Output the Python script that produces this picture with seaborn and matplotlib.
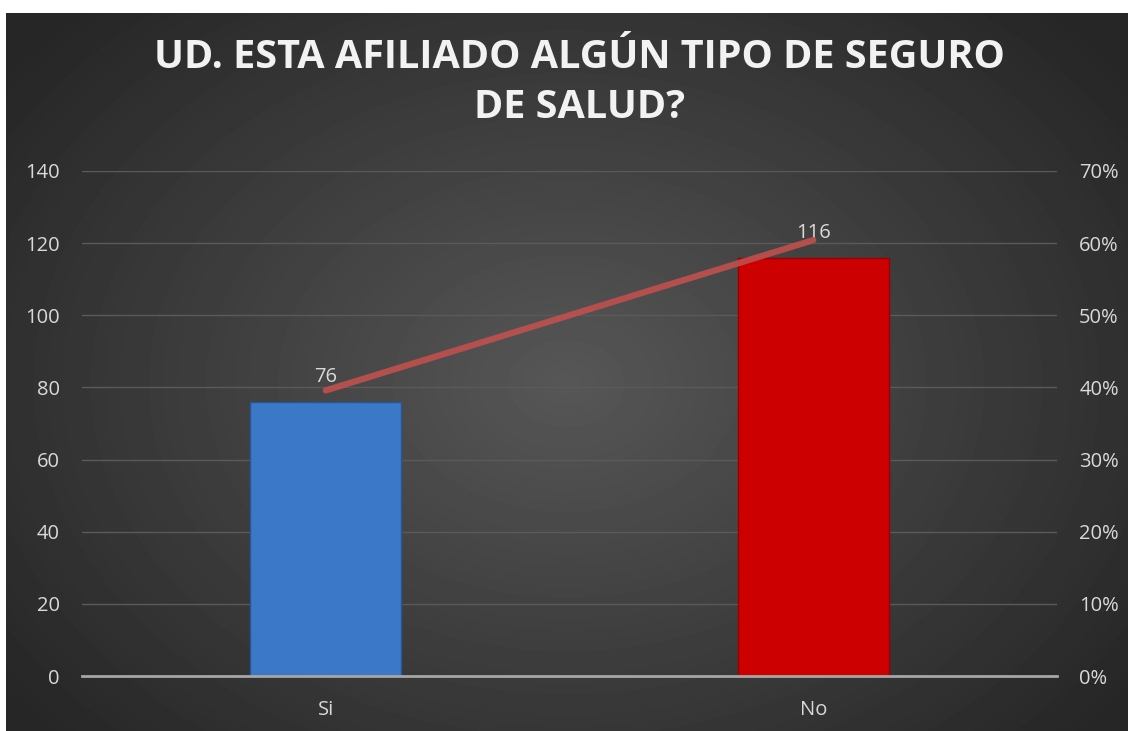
import numpy as np
import pandas as pd
import matplotlib
matplotlib.use("Agg")
from matplotlib import pyplot as plt
from matplotlib.ticker import PercentFormatter
import seaborn as sns

# data
categories = ["Si", "No"]
counts = [76, 116]
percents = [76 / 192, 116 / 192]
bar_colors = ["#3b78c8", "#cc0000"]

df = pd.DataFrame({"cat": categories, "n": counts, "pct": percents})

sns.set_style("dark")
plt.rcParams['font.family'] = ['Open Sans', 'DejaVu Sans']

W, H = 1129, 731
fig = plt.figure(figsize=(W / 100, H / 100), dpi=100)
fig.patch.set_facecolor("white")

# radial dark background
bg = fig.add_axes([6 / W, 0, 1122 / W, 718 / H], zorder=-5)
yy, xx = np.mgrid[0:718, 0:1122]
r = np.sqrt(((xx - 560) / 700) ** 2 + ((yy - 370) / 520) ** 2)
shade = np.clip(0.34 - 0.19 * r, 0.15, 0.34)
bg.imshow(shade, cmap="gray", vmin=0, vmax=1, aspect="auto", interpolation="bilinear")
bg.set_axis_off()

ax = fig.add_axes([82 / W, (H - 676) / H, (1057 - 82) / W, (676 - 171) / H])
ax.set_facecolor("none")
sns.barplot(data=df, x="cat", y="n", hue="cat", palette=bar_colors, legend=False,
            width=0.31, ax=ax, saturation=1, edgecolor="#2a5590", linewidth=1)
ax.patches[1].set_edgecolor("#990000")
ax.set_xlim(-0.5, 1.5)
ax.set_ylim(0, 140)
ax.set_yticks(range(0, 141, 20))
ax.yaxis.grid(True, color="#5a5a5a", linewidth=1)
ax.set_axisbelow(True)
for s in ["top", "right", "left"]:
    ax.spines[s].set_visible(False)
ax.spines["bottom"].set_color("#a6a6a6")
ax.spines["bottom"].set_linewidth(2)
ax.tick_params(colors="#d9d9d9", labelsize=14.5, length=0, pad=16)
ax.tick_params(axis="x", pad=17)
ax.set_xlabel("")
ax.set_ylabel("")
for i, v in enumerate(counts):
    ax.text(i, v + 4, str(v), ha="center", va="bottom", color="#d9d9d9", fontsize=14.5)

ax2 = ax.twinx()
sns.lineplot(data=df, x="cat", y="pct", ax=ax2, color="#c0504d", alpha=0.9,
             linewidth=4.5, solid_capstyle="round")
ax2.set_ylim(0, 0.7)
ax2.set_yticks(np.arange(0, 0.71, 0.1))
ax2.yaxis.set_major_formatter(PercentFormatter(1.0, decimals=0))
ax2.tick_params(colors="#d9d9d9", labelsize=14.5, length=0, pad=16)
ax2.set_ylabel("")
ax2.set_xlabel("")
ax2.grid(False)
for s in ax2.spines.values():
    s.set_visible(False)
ax2.set_xlim(-0.5, 1.5)

fig.text(0.513, 1 - 57 / H, "UD. ESTA AFILIADO ALGÚN TIPO DE SEGURO", ha="center", va="center",
         color="#f2f2f2", fontsize=28.5, fontweight="bold")
fig.text(0.513, 1 - 108 / H, "DE SALUD?", ha="center", va="center",
         color="#f2f2f2", fontsize=28.5, fontweight="bold")

fig.savefig("out.png", dpi=100)
